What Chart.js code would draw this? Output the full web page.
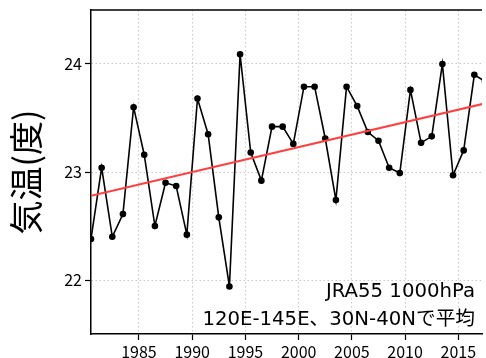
<!DOCTYPE html>
<html>
<head>
<meta charset="utf-8">
<script src="https://cdn.jsdelivr.net/npm/chart.js@4"></script>
<style>
    html, body { margin: 0; padding: 0; background: #fff; overflow: hidden; }
    canvas { display: block; }
</style>
</head>
<body>
<canvas id="tempChart" width="486" height="358"></canvas>
<script>
// Annual mean temperature, JRA55 1000hPa (120E-145E, 30N-40N)
const years = [
    1980, 1981, 1982, 1983, 1984, 1985, 1986, 1987, 1988, 1989,
    1990, 1991, 1992, 1993, 1994, 1995, 1996, 1997, 1998, 1999,
    2000, 2001, 2002, 2003, 2004, 2005, 2006, 2007, 2008, 2009,
    2010, 2011, 2012, 2013, 2014, 2015, 2016, 2017
];
const temps = [
    22.38, 23.04, 22.40, 22.61, 23.60, 23.16, 22.50, 22.90, 22.87, 22.42,
    23.68, 23.35, 22.58, 21.94, 24.09, 23.18, 22.92, 23.42, 23.42, 23.26,
    23.79, 23.79, 23.31, 22.74, 23.79, 23.61, 23.37, 23.29, 23.04, 22.99,
    23.76, 23.27, 23.33, 24.00, 22.97, 23.20, 23.90, 23.84
];

// Linear trend (end points)
const trendYears = [1980.5, 2017.5];
const trendTemps = [22.78, 23.635];

// Tick labels
const xTicks = [1985, 1990, 1995, 2000, 2005, 2010, 2015];
const yTicks = [22, 23, 24];

const yTitle = '気温(度)';
const noteLines = ['JRA55 1000hPa', '120E-145E、30N-40Nで平均'];

document.addEventListener('DOMContentLoaded', function() {
    initTempChart();
});

function initTempChart() {
    const ctx = document.getElementById('tempChart');
    if (!ctx) return;

    // annual means are plotted at mid-year
    const tempPoints = years.map((yr, i) => ({ x: yr + 0.5, y: temps[i] }));
    const trendPoints = trendYears.map((yr, i) => ({ x: yr, y: trendTemps[i] }));

    // top frame line + annotation text
    const framePlugin = {
        id: 'frameAndNote',
        afterDraw(chart) {
            const c = chart.ctx;
            const area = chart.chartArea;
            c.save();
            c.strokeStyle = '#000';
            c.lineWidth = 1.5;
            c.beginPath();
            c.moveTo(area.left, area.top);
            c.lineTo(area.right, area.top);
            c.stroke();

            c.fillStyle = '#000';
            c.font = "19.7px 'DejaVu Sans', 'Noto Sans CJK JP', sans-serif";
            c.textAlign = 'right';
            c.textBaseline = 'alphabetic';
            c.fillText(noteLines[0], 475, 297);
            c.fillText(noteLines[1], 475, 325);
            c.restore();
        }
    };

    new Chart(ctx, {
        type: 'line',
        data: {
            datasets: [{
                label: 'trend',
                data: trendPoints,
                borderColor: '#ff4040',
                borderWidth: 2,
                pointRadius: 0,
                fill: false
            }, {
                label: 'temperature',
                data: tempPoints,
                borderColor: '#000',
                borderWidth: 1.6,
                pointRadius: 3.3,
                pointBackgroundColor: '#000',
                pointBorderWidth: 0,
                tension: 0,
                fill: false
            }]
        },
        options: {
            responsive: false,
            animation: false,
            layout: {
                padding: { top: 10, right: 0, bottom: 0, left: 0 }
            },
            plugins: {
                legend: { display: false },
                tooltip: { enabled: false }
            },
            scales: {
                x: {
                    type: 'linear',
                    min: 1980.5,
                    max: 2017.22,
                    afterBuildTicks: function(scale) {
                        scale.ticks = xTicks.map(v => ({ value: v }));
                    },
                    afterFit: function(scale) {
                        scale.height = 24;
                        scale.paddingLeft = 0;
                        scale.paddingRight = 0;
                    },
                    grid: {
                        color: '#c8c8c8',
                        lineWidth: 1,
                        tickLength: 6,
                        tickColor: '#000',
                        tickWidth: 1.2
                    },
                    border: {
                        color: '#000',
                        width: 1.5,
                        dash: [1.5, 2.5]
                    },
                    ticks: {
                        color: '#000',
                        padding: 2,
                        maxRotation: 0,
                        font: { family: "'Noto Sans CJK JP', sans-serif", size: 16 },
                        callback: function(value) { return String(value); }
                    }
                },
                y: {
                    min: 21.5,
                    max: 24.5,
                    afterBuildTicks: function(scale) {
                        scale.ticks = yTicks.map(v => ({ value: v }));
                    },
                    afterFit: function(scale) {
                        scale.width = 91;
                        scale.paddingTop = 0;
                        scale.paddingBottom = 0;
                    },
                    grid: {
                        color: '#c8c8c8',
                        lineWidth: 1,
                        tickLength: 6,
                        tickColor: '#000',
                        tickWidth: 1.2
                    },
                    border: {
                        color: '#000',
                        width: 1.5,
                        dash: [1.5, 2.5]
                    },
                    ticks: {
                        color: '#000',
                        padding: 3,
                        font: { family: "'Noto Sans CJK JP', sans-serif", size: 16 },
                        callback: function(value) { return String(value); }
                    },
                    title: {
                        display: true,
                        text: yTitle,
                        color: '#000',
                        padding: { top: 6, bottom: 0 },
                        font: { family: "'Noto Sans CJK JP', sans-serif", size: 34 }
                    }
                }
            }
        },
        plugins: [framePlugin]
    });
}
</script>
</body>
</html>
